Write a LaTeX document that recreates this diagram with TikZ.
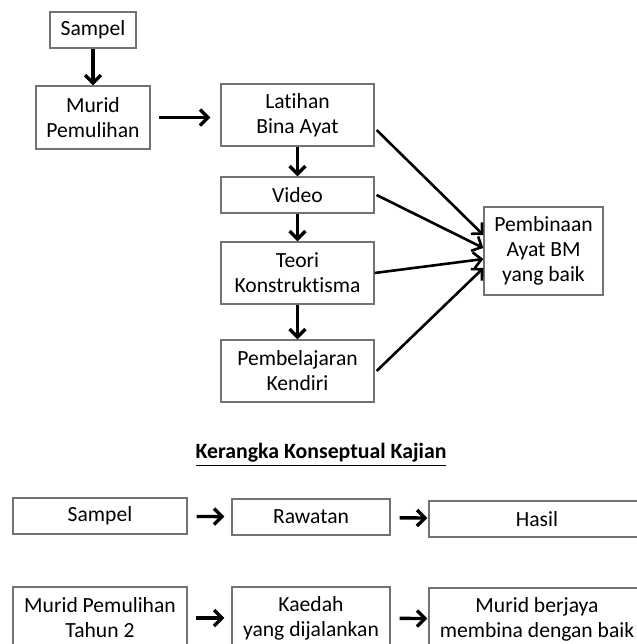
\documentclass[tikz,border=0pt]{standalone}
\usepackage{fontspec}
\setmainfont{Carlito}[Ligatures=NoCommon]
\usetikzlibrary{arrows.meta}
\tikzset{
  kotak/.style={draw=black!55,line width=0.6pt,align=center,inner sep=0pt,
    font=\fontsize{10.8}{12.5}\selectfont},
  panah/.style={-{Straight Barb[length=4pt,width=8pt]},line width=1.7pt},
  panahserong/.style={-{Straight Barb[length=4pt,width=8pt]},line width=1.3pt}
}
\begin{document}
\begin{tikzpicture}[x=0.5pt,y=-0.5pt]
		\clip (0,0) rectangle (637,644);
		\fill[white] (0,0) rectangle (637,644);
		% rajah atas
		\node[kotak,minimum width=43pt,minimum height=18pt] (sampel) at (93,30) {Sampel};
		\node[kotak,minimum width=57pt,minimum height=31.5pt] (murid) at (93,117.5) {Murid\\Pemulihan};
		\node[kotak,minimum width=76.5pt,minimum height=31pt] (latihan) at (297.5,115) {Latihan\\Bina Ayat};
		\node[kotak,minimum width=76.5pt,minimum height=18pt] (video) at (297.5,195) {Video};
		\node[kotak,minimum width=76.5pt,minimum height=31pt] (teori) at (297.5,273) {Teori\\Konstruktisma};
		\node[kotak,minimum width=76.5pt,minimum height=31pt] (kendiri) at (297.5,371) {Pembelajaran\\Kendiri};
		\node[kotak,minimum width=59.5pt,minimum height=44pt] (bina) at (543.5,251) {Pembinaan\\Ayat BM\\yang baik};
		
		\draw[panah] (sampel) -- (murid);
		\draw[panah,shorten <=4pt,shorten >=5pt] (murid.east) -- (latihan.west|-murid.east);
		\draw[panah] (latihan) -- (video);
		\draw[panah] (video) -- (teori);
		\draw[panah] (teori) -- (kendiri);
		
		\draw[panahserong] ([yshift=-7.5pt,xshift=1pt]latihan.east) -- ([yshift=8pt]bina.west);
		\draw[panahserong] ([xshift=1pt]video.east) -- ([yshift=1.5pt]bina.west);
		\draw[panahserong] (teori.east) -- ([yshift=-4pt]bina.west);
		\draw[panahserong] ([xshift=1pt]kendiri.east) -- ([yshift=-8.5pt]bina.west);
		
		% tajuk
		\node[font=\fontsize{10.9}{12.5}\selectfont] (tajuk) at (321,455) {\bfseries\underline{Kerangka Konseptual Kajian}};
		
		% rajah bawah
		\node[kotak,minimum width=87pt,minimum height=18pt] (sampelb) at (100,516) {Sampel};
		\node[kotak,minimum width=79pt,minimum height=18pt] (rawatan) at (311,517) {Rawatan};
		\node[kotak,minimum width=108pt,minimum height=18pt] (hasil) at (537,519) {Hasil};
		\draw[panah,shorten <=4.5pt,shorten >=3.5pt] (sampelb) -- (rawatan);
		\draw[panah,shorten <=4.5pt,shorten >=0.5pt] (rawatan) -- (hasil);
		
		\node[kotak,minimum width=87pt,minimum height=31pt] (muridb) at (100,618) {Murid Pemulihan\\Tahun 2};
		\node[kotak,minimum width=79pt,minimum height=31pt] (kaedah) at (311,618) {Kaedah\\yang dijalankan};
		\node[kotak,minimum width=108pt,minimum height=31pt] (berjaya) at (537,619) {Murid berjaya\\membina dengan baik};
		\draw[panah,shorten <=4pt,shorten >=3.5pt] (muridb) -- (kaedah);
		\draw[panah,shorten <=4.5pt,shorten >=0.5pt] (kaedah) -- (berjaya);
	\end{tikzpicture}
\end{document}
